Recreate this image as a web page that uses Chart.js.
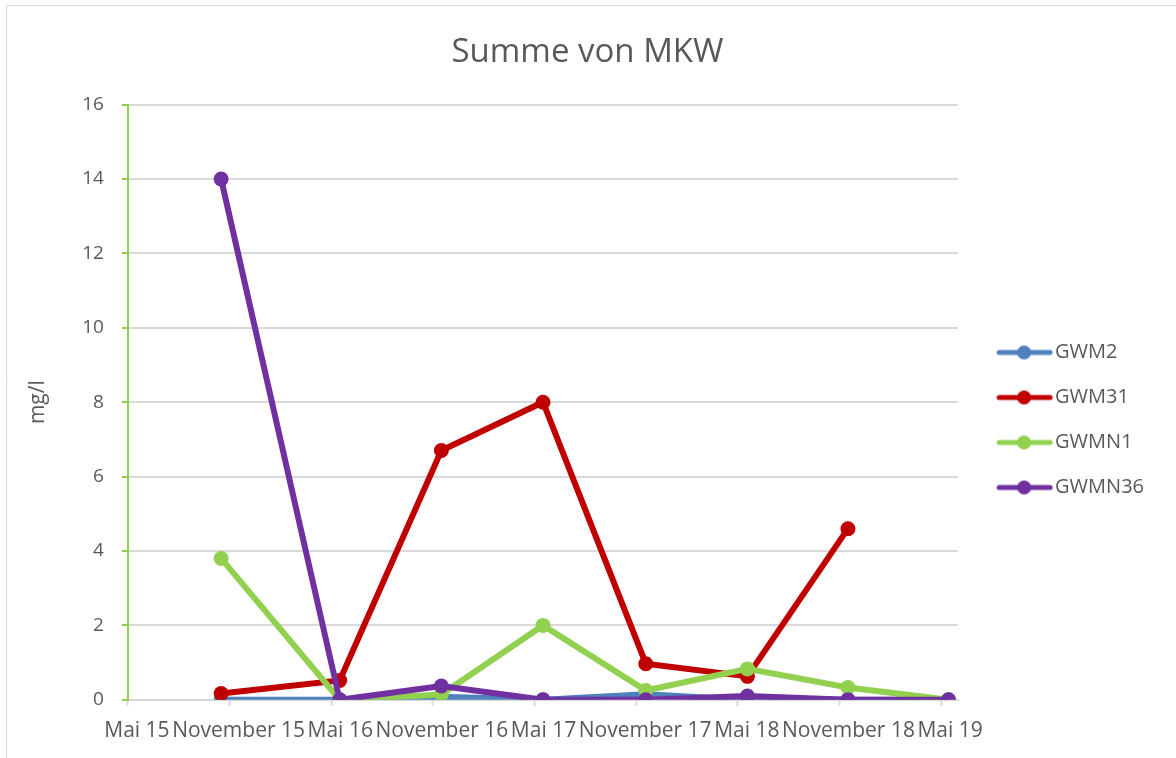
<!DOCTYPE html>
<html>
<head>
<meta charset="utf-8">
<script src="https://cdn.jsdelivr.net/npm/chart.js@4"></script>
<style>
  html, body { margin: 0; padding: 0; background: #fff; overflow: hidden; }
  #wrap { position: relative; width: 1176px; height: 758px; }
</style>
</head>
<body>
<div id="wrap"><canvas id="chart" width="1176" height="758"></canvas></div>
<script>
// tick labels on the date axis (first day of each month)
const tickLabels = ["Mai 15", "November 15", "Mai 16", "November 16", "Mai 17",
                    "November 17", "Mai 18", "November 18", "Mai 19"];
const tickDates = ["2015-05-01", "2015-11-01", "2016-05-01", "2016-11-01", "2017-05-01",
                   "2017-11-01", "2018-05-01", "2018-11-01", "2019-05-01"];
// sampling dates
const sampleDates = ["2015-10-16", "2016-05-16", "2016-11-16", "2017-05-16",
                     "2017-11-18", "2018-05-18", "2018-11-16", "2019-05-14"];

const seriesNames = ["GWM2", "GWM31", "GWMN1", "GWMN36"];
const gwm2   = [0, 0, 0.08, 0, 0.15, 0, 0, 0];
const gwm31  = [0.17, 0.52, 6.7, 8.0, 0.97, 0.63, 4.6, null];
const gwmn1  = [3.8, 0, 0.14, 2.0, 0.25, 0.83, 0.33, 0];
const gwmn36 = [14.0, 0, 0.37, 0, 0, 0.1, 0, 0];

const yTicks = [0, 2, 4, 6, 8, 10, 12, 14, 16];

// months since 2015-05-01
function monthIndex(s) {
    const [y, m, d] = s.split("-").map(Number);
    return (y - 2015) * 12 + (m - 5) + (d - 1) / 30;
}
const tickPos = tickDates.map(monthIndex);
const xs = sampleDates.map(monthIndex);

function points(values) {
    return values.map((v, i) => ({ x: xs[i], y: v }));
}

const colors = ["#4f81bd", "#c00000", "#92d050", "#7030a0"];
const values = [gwm2, gwm31, gwmn1, gwmn36];

// line + dot legend symbol, line sits in the right part of the image
function legendSymbol(color) {
    const c = document.createElement("canvas");
    c.width = 90;
    c.height = 16;
    const ctx = c.getContext("2d");
    ctx.strokeStyle = color;
    ctx.lineWidth = 5;
    ctx.lineCap = "round";
    ctx.beginPath();
    ctx.moveTo(30, 8);
    ctx.lineTo(81, 8);
    ctx.stroke();
    ctx.fillStyle = color;
    ctx.beginPath();
    ctx.arc(55, 8, 7, 0, Math.PI * 2);
    ctx.fill();
    return c;
}
const symbols = colors.map(legendSymbol);

const frame = {
    id: "frame",
    beforeDraw(chart) {
        const ctx = chart.ctx;
        ctx.save();
        ctx.fillStyle = "#fff";
        ctx.fillRect(0, 0, chart.width, chart.height);
        ctx.strokeStyle = "#d9d9d9";
        ctx.lineWidth = 1;
        ctx.beginPath();
        ctx.moveTo(6.5, 758);
        ctx.lineTo(6.5, 5.5);
        ctx.lineTo(1176, 5.5);
        ctx.stroke();
        ctx.restore();
    }
};

const textColor = "#595959";
const font = "'Open Sans', sans-serif";

new Chart(document.getElementById("chart"), {
    type: "line",
    data: {
        datasets: seriesNames.map((name, i) => ({
            label: name,
            data: points(values[i]),
            borderColor: colors[i],
            backgroundColor: colors[i],
            pointBackgroundColor: colors[i],
            pointBorderColor: colors[i],
            borderWidth: 6,
            pointRadius: 7.5,
            pointBorderWidth: 0,
            spanGaps: false,
            order: seriesNames.length - i,
        })),
    },
    options: {
        responsive: false,
        animation: false,
        layout: { padding: { left: 21, right: 22, top: 11, bottom: 1 } },
        plugins: {
            tooltip: { enabled: false },
            title: {
                display: true,
                text: "Summe von MKW",
                color: textColor,
                font: { family: font, size: 33, weight: "normal" },
                padding: { top: 22, bottom: 32 },
            },
            legend: {
                position: "right",
                reverse: true,
                title: {
                    display: true,
                    text: " ",
                    font: { family: font, size: 20 },
                    padding: { top: 25, bottom: 23 },
                },
                labels: {
                    color: textColor,
                    font: { family: font, size: 20 },
                    usePointStyle: true,
                    pointStyleWidth: 62,
                    boxHeight: 16,
                    padding: 25,
                    generateLabels(chart) {
                        const items = Chart.defaults.plugins.legend.labels.generateLabels(chart);
                        items.forEach(it => { it.pointStyle = symbols[it.datasetIndex]; });
                        return items;
                    },
                },
            },
        },
        scales: {
            x: {
                type: "linear",
                min: 0,
                max: 49,
                afterBuildTicks(scale) {
                    scale.ticks = tickPos.map(v => ({ value: v }));
                },
                ticks: {
                    autoSkip: false,
                    maxRotation: 0,
                    color: textColor,
                    font: { family: font, size: 21 },
                    labelOffset: 9,
                    padding: 13,
                    callback(value, index) { return tickLabels[index]; },
                },
                grid: {
                    drawOnChartArea: false,
                    tickLength: 6,
                    tickColor: "#d9d9d9",
                    tickWidth: 2,
                },
                border: { color: "#d9d9d9", width: 2 },
            },
            y: {
                min: 0,
                max: 16,
                afterBuildTicks(scale) {
                    scale.ticks = yTicks.map(v => ({ value: v }));
                },
                title: {
                    display: true,
                    text: "mg/l",
                    color: textColor,
                    font: { family: font, size: 21 },
                    padding: { bottom: 14 },
                },
                ticks: {
                    color: textColor,
                    font: { family: font, size: 19 },
                    padding: 18,
                },
                grid: {
                    color: "#d9d9d9",
                    lineWidth: 2,
                    tickLength: 6,
                    tickColor: "#92d050",
                },
                border: { color: "#92d050", width: 2 },
            },
        },
    },
    plugins: [frame],
});
</script>
</body>
</html>
